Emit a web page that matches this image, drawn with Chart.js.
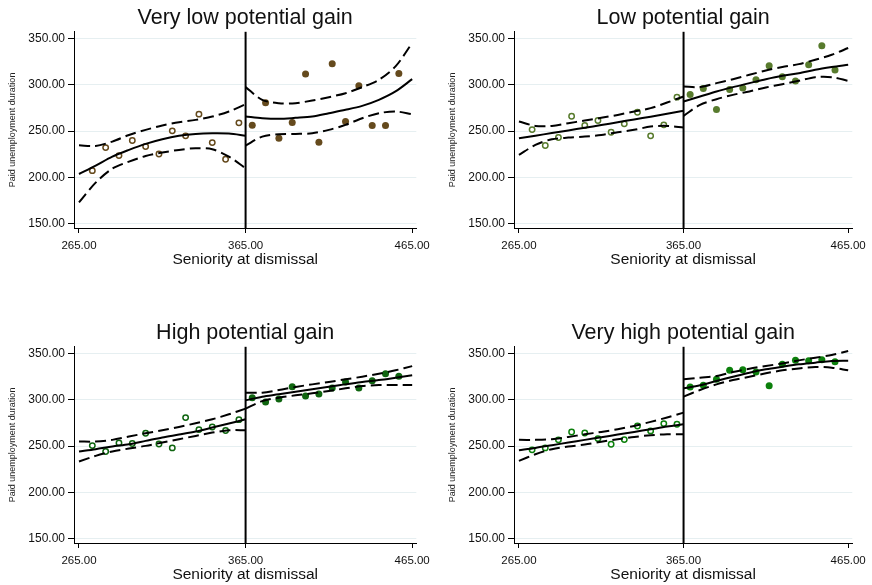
<!DOCTYPE html>
<html lang="en">
<head>
<meta charset="UTF-8">
<title>Paid unemployment duration by potential gain</title>
<script src="https://cdn.jsdelivr.net/npm/chart.js"></script>
<style>
  body { margin: 0; background: #fff; overflow: hidden; }
  .panel { position: absolute; }
</style>
</head>
<body>
<div class="panel" style="left:0;top:0"><canvas id="c1" width="436" height="270"></canvas></div>
<div class="panel" style="left:440px;top:0"><canvas id="c2" width="432" height="270"></canvas></div>
<div class="panel" style="left:0;top:315px"><canvas id="c3" width="436" height="270"></canvas></div>
<div class="panel" style="left:440px;top:315px"><canvas id="c4" width="432" height="270"></canvas></div>

<script>
  const cutoff = 365;
  const yTicks = [150, 200, 250, 300, 350];
  const xTicks = [265, 365, 465];
  const binsLeft = [273, 281, 289, 297, 305, 313, 321, 329, 337, 345, 353, 361];
  const binsRight = [369, 377, 385, 393, 401, 409, 417, 425, 433, 441, 449, 457];
  const fitLeftX = [265, 275, 285, 295, 305, 315, 325, 335, 345, 355, 365];
  const fitRightX = [365, 375, 385, 395, 405, 415, 425, 435, 445, 455, 465];

  // Very low potential gain
  const vlowLeft = [207.1, 232.1, 223.4, 239.7, 233.2, 225.2, 250.2, 244.8, 268.3, 237.5, 219.4, 258.9];
  const vlowRight = [256.3, 280.6, 242.2, 259.2, 311.7, 237.9, 322.9, 260.3, 299.0, 256.0, 256.0, 312.4];
  const vlowFitL = [203.5, 212.6, 222.3, 229.6, 236.1, 241.1, 244.8, 246.9, 247.6, 247.3, 245.0];
  const vlowHiL = [234.6, 233.9, 238.6, 245.8, 251.3, 256.0, 259.6, 262.1, 265.7, 271.2, 279.1];
  const vlowLoL = [172.8, 194.1, 209.3, 216.9, 223.0, 226.7, 229.6, 231.4, 230.3, 222.3, 209.7];
  const vlowFitR = [265.7, 263.9, 263.2, 264.3, 265.7, 269.3, 273.0, 277.3, 283.8, 292.9, 306.2];
  const vlowHiR = [297.6, 283.8, 280.2, 280.2, 283.1, 286.7, 291.0, 297.6, 305.5, 320.0, 345.3];
  const vlowLoR = [234.3, 244.0, 246.6, 246.9, 247.6, 251.3, 256.7, 263.9, 269.3, 271.2, 268.3];

  // Low potential gain
  const lowLeft = [251.6, 234.3, 243.0, 266.1, 256.0, 261.4, 248.7, 257.8, 270.4, 244.8, 256.7, 286.7];
  const lowRight = [289.6, 296.1, 273.3, 295.0, 296.5, 305.5, 320.7, 308.8, 304.1, 321.8, 342.4, 316.0];
  const lowFitL = [242.2, 245.0, 247.8, 250.7, 253.6, 256.5, 259.5, 262.6, 265.6, 268.7, 271.9];
  const lowHiL = [260.3, 255.6, 255.6, 258.5, 261.4, 264.3, 267.5, 271.2, 274.8, 280.9, 287.4];
  const lowLoL = [224.1, 235.0, 241.1, 242.9, 244.0, 245.8, 248.7, 251.3, 254.9, 255.6, 253.8];
  const lowFitR = [282.0, 287.4, 292.9, 297.6, 301.9, 306.2, 309.9, 312.7, 316.4, 319.3, 321.8];
  const lowHiR = [298.3, 297.6, 301.9, 306.2, 310.9, 315.6, 319.3, 322.5, 327.2, 332.6, 339.9];
  const lowLoR = [266.5, 278.4, 284.5, 289.2, 292.9, 297.2, 300.8, 304.4, 308.4, 308.4, 304.4];

  // High potential gain
  const highLeft = [250.5, 244.1, 253.4, 252.7, 263.9, 252.3, 248.0, 280.8, 267.8, 270.7, 266.8, 278.6];
  const highRight = [302.4, 297.7, 301.0, 314.3, 304.2, 306.4, 312.9, 319.4, 312.9, 320.8, 328.4, 325.5];
  const highFitL = [244.1, 246.6, 249.5, 252.0, 255.6, 259.2, 262.4, 265.7, 270.0, 274.4, 279.0];
  const highHiL = [254.9, 254.9, 256.7, 260.3, 263.9, 267.1, 270.7, 274.7, 279.0, 284.4, 290.5];
  const highLoL = [233.2, 239.4, 244.1, 247.3, 250.2, 253.8, 257.4, 261.0, 264.6, 267.1, 267.1];
  const highFitR = [299.5, 303.5, 306.0, 308.9, 311.4, 314.3, 316.8, 319.4, 321.5, 324.0, 326.6];
  const highHiR = [307.8, 307.8, 310.7, 314.0, 316.8, 319.4, 322.3, 325.1, 328.4, 332.0, 336.6];
  const highLoR = [290.5, 298.7, 302.4, 304.9, 307.1, 309.6, 312.5, 315.0, 316.1, 316.1, 316.1];

  // Very high potential gain
  const vhighLeft = [245.9, 248.0, 256.7, 265.3, 264.2, 258.1, 252.0, 257.0, 271.8, 266.4, 274.3, 273.6];
  const vhighRight = [314.0, 315.8, 322.3, 332.0, 332.7, 330.2, 315.4, 338.5, 342.8, 342.4, 343.5, 341.4];
  const vhighFitL = [245.5, 248.0, 250.9, 253.8, 256.7, 259.5, 262.4, 265.3, 268.2, 271.1, 273.6];
  const vhighHiL = [256.7, 256.7, 257.4, 259.9, 262.7, 265.3, 268.2, 271.8, 276.2, 280.9, 286.2];
  const vhighLoL = [234.0, 241.1, 246.6, 249.5, 251.6, 254.6, 257.4, 259.9, 261.7, 262.8, 262.8];
  const vhighFitR = [312.5, 315.8, 320.5, 325.1, 329.5, 333.1, 335.9, 338.5, 340.3, 342.1, 342.4];
  const vhighHiR = [322.3, 324.1, 325.9, 330.2, 333.8, 336.7, 339.5, 342.8, 345.7, 348.6, 352.9];
  const vhighLoR = [303.5, 310.7, 316.8, 321.5, 325.1, 328.8, 332.0, 334.1, 335.6, 334.9, 332.0];

  const FONT = "'Liberation Sans', Arial, sans-serif";

  function pts(xs, ys) {
    return xs.map((x, i) => ({ x: x, y: ys[i] }));
  }

  // vertical line at the 365-day threshold
  const cutoffLine = {
    id: 'cutoffLine',
    afterDatasetsDraw(chart) {
      const { ctx, chartArea, scales } = chart;
      const x = scales.x.getPixelForValue(cutoff);
      ctx.save();
      ctx.strokeStyle = '#000';
      ctx.lineWidth = 2;
      ctx.beginPath();
      ctx.moveTo(x, chartArea.top);
      ctx.lineTo(x, chartArea.bottom);
      ctx.stroke();
      ctx.restore();
    }
  };

  function lineSet(xs, ys, dashed) {
    return {
      data: pts(xs, ys),
      showLine: true,
      borderColor: '#000',
      borderWidth: 2,
      borderDash: dashed ? [11, 5] : [],
      pointRadius: 0,
      tension: 0.3,
      order: 0
    };
  }

  function makeChart(id, title, color, d, yAxisW, padRight) {
    new Chart(document.getElementById(id), {
      type: 'scatter',
      data: {
        datasets: [
          { data: pts(binsLeft, d.left), pointRadius: 2.7, pointBorderWidth: 1.5,
            pointBackgroundColor: '#fff', pointBorderColor: color, order: 1 },
          { data: pts(binsRight, d.right), pointRadius: 3.5, pointBorderWidth: 0,
            pointBackgroundColor: color, pointBorderColor: color, order: 1 },
          lineSet(fitLeftX, d.fitL, false),
          lineSet(fitLeftX, d.hiL, true),
          lineSet(fitLeftX, d.loL, true),
          lineSet(fitRightX, d.fitR, false),
          lineSet(fitRightX, d.hiR, true),
          lineSet(fitRightX, d.loR, true)
        ]
      },
      options: {
        responsive: false,
        animation: false,
        events: [],
        layout: { padding: { left: 0, right: padRight, top: 0, bottom: 0 } },
        plugins: {
          legend: { display: false },
          tooltip: { enabled: false },
          title: {
            display: true, text: title, fullSize: false, color: '#111',
            font: { family: FONT, size: 21.5, weight: 'normal' },
            padding: { top: 5, bottom: 1 }
          }
        },
        scales: {
          x: {
            type: 'linear', min: 262, max: 467.5,
            afterBuildTicks: s => { s.ticks = xTicks.map(v => ({ value: v })); },
            afterFit: s => { s.height = 42; },
            grid: { drawOnChartArea: false, tickLength: 5, tickColor: '#000' },
            border: { color: '#000', width: 1 },
            ticks: { color: '#111', font: { family: FONT, size: 11.5 }, padding: 6,
              maxRotation: 0, autoSkip: false, callback: v => Number(v).toFixed(2) },
            title: { display: true, text: 'Seniority at dismissal', color: '#111',
              font: { family: FONT, size: 15.5 }, padding: { top: 0, bottom: 1 } }
          },
          y: {
            min: 145, max: 357.5,
            afterBuildTicks: s => { s.ticks = yTicks.map(v => ({ value: v })); },
            afterFit: s => { s.width = yAxisW; },
            grid: { color: '#e6eff1', lineWidth: 1, tickLength: 6, tickColor: '#000' },
            border: { color: '#000', width: 1 },
            ticks: { color: '#111', font: { family: FONT, size: 12 }, padding: 3,
              autoSkip: false, callback: v => Number(v).toFixed(2) },
            title: { display: true, text: 'Paid unemployment duration', color: '#222',
              font: { family: FONT, size: 9 }, padding: { top: 7, bottom: 0 } }
          }
        }
      },
      plugins: [cutoffLine]
    });
  }

  makeChart('c1', 'Very low potential gain', '#654a1d',
    { left: vlowLeft, right: vlowRight, fitL: vlowFitL, hiL: vlowHiL, loL: vlowLoL,
      fitR: vlowFitR, hiR: vlowHiR, loR: vlowLoR }, 74, 19);
  makeChart('c2', 'Low potential gain', '#587b2d',
    { left: lowLeft, right: lowRight, fitL: lowFitL, hiL: lowHiL, loL: lowLoL,
      fitR: lowFitR, hiR: lowHiR, loR: lowLoR }, 74, 15);
  makeChart('c3', 'High potential gain', '#0f6510',
    { left: highLeft, right: highRight, fitL: highFitL, hiL: highHiL, loL: highLoL,
      fitR: highFitR, hiR: highHiR, loR: highLoR }, 74, 19);
  makeChart('c4', 'Very high potential gain', '#0c800c',
    { left: vhighLeft, right: vhighRight, fitL: vhighFitL, hiL: vhighHiL, loL: vhighLoL,
      fitR: vhighFitR, hiR: vhighHiR, loR: vhighLoR }, 74, 15);
</script>
</body>
</html>
